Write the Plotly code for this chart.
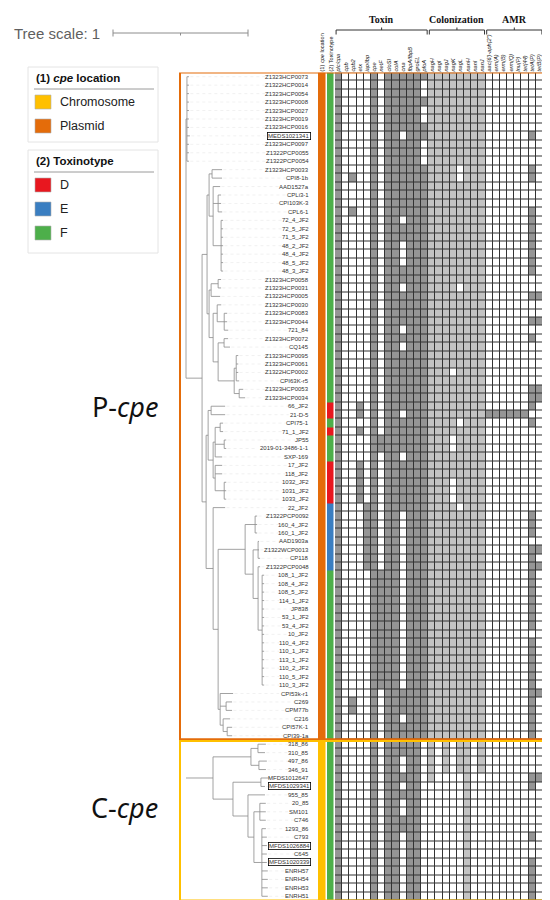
import plotly.graph_objects as go

W, H = 550, 900

# ---------------- data ----------------
P_STRAINS = [
    "Z1323HCP0073", "Z1322HCP0014", "Z1323HCP0054", "Z1323HCP0008", "Z1323HCP0027",
    "Z1323HCP0019", "Z1323HCP0016", "MEDS1021341", "Z1323HCP0097", "Z1322PCP0055",
    "Z1322PCP0054", "Z1323HCP0033", "CPI8-1b", "AAD1527a", "CPLi3-1",
    "CPI103K-3", "CPL6-1", "72_4_JF2", "72_5_JF2", "71_5_JF2",
    "48_2_JF2", "48_4_JF2", "48_5_JF2", "48_3_JF2", "Z1323HCP0058",
    "Z1323HCP0031", "Z1322HCP0005", "Z1323HCP0030", "Z1323HCP0083", "Z1323HCP0044",
    "721_84", "Z1323HCP0072", "CQ145", "Z1323HCP0095", "Z1323HCP0061",
    "Z1322HCP0002", "CPI63K-r5", "Z1323HCP0053", "Z1323HCP0034", "66_JF2",
    "21-D-5", "CPI75-1", "71_1_JF2", "JP55", "2019-01-3486-1-1",
    "SXP-169", "17_JF2", "118_JF2", "1032_JF2", "1031_JF2",
    "1033_JF2", "22_JF2", "Z1322PCP0092", "160_4_JF2", "160_1_JF2",
    "AAD1903a", "Z1322WCP0013", "CP118", "Z1322PCP0048", "108_1_JF2",
    "108_4_JF2", "108_5_JF2", "114_1_JF2", "JP838", "53_1_JF2",
    "53_4_JF2", "10_JF2", "110_4_JF2", "110_1_JF2", "113_1_JF2",
    "110_2_JF2", "110_5_JF2", "110_3_JF2", "CPI53k-r1", "C269",
    "CPM77b", "C216", "CPI57K-1", "CPI39-1a",
]
C_STRAINS = [
    "318_86", "310_85", "497_86", "346_91", "MFDS1012647", "MFDS1029341", "955_85",
    "20_85", "SM101", "C746", "1293_86", "C793", "MFDS1026884", "C645",
    "MFDS1020339", "ENRH57", "ENRH54", "ENRH53", "ENRH51",
]
BOXED = ["MEDS1021341", "MFDS1029341", "MFDS1026884", "MFDS1020339"]

# Newick trees (branch lengths in tree units)
P_TREE = """(
 (Z1323HCP0073:0.015,Z1322HCP0014:0.015,Z1323HCP0054:0.015,Z1323HCP0008:0.015,Z1323HCP0027:0.015,
  Z1323HCP0019:0.015,Z1323HCP0016:0.015,MEDS1021341:0.022,Z1323HCP0097:0.015,Z1322PCP0055:0.015,
  Z1322PCP0054:0.015):0.007,
 (
  (
   ((Z1323HCP0033:0.074,CPI8-1b:0.074):0.022,
    (AAD1527a:0.052,(CPLi3-1:0.022,CPI103K-3:0.022,CPL6-1:0.030):0.037,
     (72_4_JF2:0.015,72_5_JF2:0.015,71_5_JF2:0.015,48_2_JF2:0.015,48_4_JF2:0.015,48_5_JF2:0.015,
      48_3_JF2:0.015):0.059):0.030
   ):0.015,
   (
    ((Z1323HCP0058:0.022,Z1323HCP0031:0.022):0.052,Z1322HCP0005:0.067):0.015,
    ((Z1323HCP0030:0.030,(Z1323HCP0083:0.022,Z1323HCP0044:0.022,721_84:0.030):0.052):0.030,
     ((Z1323HCP0072:0.030,CQ145:0.044):0.044,
      ((Z1323HCP0095:0.015,Z1323HCP0061:0.015,Z1322HCP0002:0.015,CPI63K-r5:0.022):0.015,
       (Z1323HCP0053:0.030,Z1323HCP0034:0.044):0.037):0.119):0.037
    ):0.030
   ):0.015
  ):0.037,
  (
   ((66_JF2:0.104,21-D-5:0.104):0.022,
    (((CPI75-1:0.022,71_1_JF2:0.022):0.037,(JP55:0.015,2019-01-3486-1-1:0.015):0.067,SXP-169:0.052):0.015,
     (17_JF2:0.052,118_JF2:0.052,(1032_JF2:0.015,1031_JF2:0.015,1033_JF2:0.015):0.067):0.015):0.037
   ):0.015,
   (22_JF2:0.089,
    (
     ((Z1322PCP0092:0.015,160_4_JF2:0.015,160_1_JF2:0.015):0.074,
      ((AAD1903a:0.007,Z1322WCP0013:0.007,CP118:0.015):0.037,
       (Z1322PCP0048:0.015,
        (108_1_JF2:0.015,108_4_JF2:0.015,108_5_JF2:0.015,114_1_JF2:0.015,JP838:0.015,53_1_JF2:0.015,
         53_4_JF2:0.015,10_JF2:0.015,110_4_JF2:0.015,110_1_JF2:0.015,113_1_JF2:0.015,110_2_JF2:0.015,
         110_5_JF2:0.015,110_3_JF2:0.015):0.030):0.037
      ):0.059
     ):0.2,
     (CPI53k-r1:0.096,(C269:0.044,CPM77b:0.044):0.044,(C216:0.052,(CPI57K-1:0.037,CPI39-1a:0.037):0.030):0.022):0.015
    ):0.037
   ):0.052
  ):0.030
 ):0.119
);"""

C_TREE = """(
 ((318_86:0.059,310_85:0.052):0.052,(497_86:0.059,346_91:0.052):0.059):0.281,
 ((MFDS1012647:0.067,MFDS1029341:0.030):0.207,
  (955_85:0.126,((20_85:0.044,SM101:0.044,C746:0.044):0.044,
   (1293_86:0.030,C793:0.037,MFDS1026884:0.037,C645:0.037,MFDS1020339:0.037,ENRH57:0.044,
    ENRH54:0.044,ENRH53:0.044,ENRH51:0.044):0.059):0.044):0.111
 ):0.148
):0.2;"""

TREE_SCALE = 1

CPE_LOCATION = ["Plasmid"] * 79 + ["Chromosome"] * 19
TOXINOTYPE = ("FFFFFFFFFFFFFFFFFFFFFFFFFFFFFFFFFFFFFFF"
              "DDFDFFFDDDDDEEEEEEEE"
              "FFFFFFFFFFFFFFFFFFFFFFFFFFFFFFFFFFFFFFF")

TOXIN_GENES = ["plc/cpa", "cpb", "cpb2", "etx", "iap/ibp", "cpe", "netF", "cloSI",
               "colA", "cna", "fbpA/fbpB", "groEL", "pfoA"]
COLONIZATION_GENES = ["nagH", "nagI", "nagJ", "nagK", "nagL", "nanH", "nanI", "nanJ"]
AMR_GENES = ["aac(6')-aph(2'')", "erm(A)", "erm(B)", "erm(Q)", "lnu(P)", "tet(44)",
             "tetA(P)", "tetB(P)"]

ALL1 = "1111111111 " * 9 + "11111111"
ALL0 = "0000000000 " * 9 + "00000000"
# presence strings, rows 1..98 in groups of ten
TOXIN_PRESENCE = {
    "plc/cpa":   ALL1,
    "cpb":       ALL0,
    "cpb2":      "0000000000 0010001000 0000000000 0000000000 0000000000 0000000000 0000000000 0000110000 0000000000 00000000",
    "etx":       "0000000000 0000000000 0000000000 0000000001 1010001111 1000000000 0000000000 0000000000 0000000000 00000000",
    "iap/ibp":   "0000000000 0000000000 0000000000 0000000000 0000000000 0111111110 0000000000 0000000000 0000000000 00000000",
    "cpe":       ALL1,
    "netF":      "0000000000 0000000000 0000000000 0000000000 0001100000 0000000001 1111111111 1110000000 0000000000 00000000",
    "cloSI":     ALL1,
    "colA":      ALL1,
    "cna":       "1111111011 1111111011 0001101111 0101111111 0111101111 1100000000 0000000000 0001110111 1001010011 00000000",
    "fbpA/fbpB": ALL1,
    "groEL":     ALL1,
    "pfoA":      "1001001100 0111111111 1111111111 1111111111 1111111111 1111111111 1111111111 1111111110 0000000000 00000000",
}
COLONIZATION_PRESENCE = {
    "nagH": "1111111111 1111111111 1111111111 1111111111 1111111111 1111111111 1111111111 1111111111 1111000000 00000000",
    "nagI": "1111111111 1111111111 1111111111 1111111111 1111111111 1111111111 1111111111 1111111110 0000000000 00000000",
    "nagJ": "1111111111 1111111111 1111111111 1111111111 1111111111 1111111111 1111111111 1111111111 1110000000 00000000",
    "nagK": "1111111111 1111111111 1111111111 1111101111 1110011100 0111111111 1111111111 1111111110 0000000000 00000000",
    "nagL": "1111111111 1001111111 1111101111 1111111111 1011111111 1011111111 1111111111 1111111111 1110000000 00000000",
    "nanH": ALL1,
    "nanI": "1111111111 1111111111 1111111111 1111111111 1111111111 1111111111 1111111111 1111111110 0000000000 00000000",
    "nanJ": "1111111111 1111111111 1111111111 1111111111 1111111111 1111111111 1111111111 1111111111 1110000000 00000000",
}
ROW41_ONLY = "0000000000 0000000000 0000000000 0000000000 1000000000 0000000000 0000000000 0000000000 0000000000 00000000"
AMR_PRESENCE = {
    "aac(6')-aph(2'')": ROW41_ONLY,
    "erm(A)":  ROW41_ONLY,
    "erm(B)":  ROW41_ONLY,
    "erm(Q)":  ROW41_ONLY,
    "lnu(P)":  ROW41_ONLY,
    "tet(44)": ROW41_ONLY,
    "tetA(P)": "0000000100 0110001111 1111001001 0100000111 0100000000 0011101111 1111110111 1111111110 0001100000 10011111",
    "tetB(P)": "0000000000 0000000000 0000001001 0000000110 0000000000 0000001010 0000000000 0001000000 0001000000 00000000",
}

# ---------------- colours / style ----------------
ORANGE, YELLOW = "#E46C0A", "#FFC000"
RED, BLUE, GREEN = "#E8171F", "#3A7EC1", "#4DAF4A"
TOX_GRAY, COL_GRAY, AMR_GRAY = "#959595", "#c3c3c3", "#959595"
GRID = "#333333"
TREE_COLOR = "#8a8a8a"

STRAINS = P_STRAINS + C_STRAINS
N = len(STRAINS)
ROW = {s: i for i, s in enumerate(STRAINS)}
assert len(TOXINOTYPE) == N


def clean(s):
    s = s.replace(" ", "")
    assert len(s) == N, len(s)
    return s


# pixel helpers for layout furniture
def X(px):
    return px / W


def Y(py):
    return 1 - py / H


ROW_TOP_PX, ROW_BOT_PX = 64.5, 892.5
ROOT_PX, PX_PER_UNIT = 178, 135
TREE_RIGHT_PX = 305


# ---------------- tree parsing/layout ----------------
def parse_newick(txt):
    s = "".join(txt.split()).rstrip(";")
    pos = 0

    def node():
        nonlocal pos
        nd = {"children": [], "name": "", "len": 0.0}
        if s[pos] == "(":
            pos += 1
            while True:
                nd["children"].append(node())
                if s[pos] == ",":
                    pos += 1
                    continue
                if s[pos] == ")":
                    pos += 1
                    break
        st = pos
        while pos < len(s) and s[pos] not in ":,()":
            pos += 1
        nd["name"] = s[st:pos]
        if pos < len(s) and s[pos] == ":":
            pos += 1
            st = pos
            while pos < len(s) and s[pos] not in ",()":
                pos += 1
            nd["len"] = float(s[st:pos])
        return nd

    return node()


seg_x, seg_y, tips = [], [], []


def layout(nd, parent_x):
    x = parent_x + nd["len"]
    if not nd["children"]:
        y = ROW[nd["name"]]
        tips.append((x, y, nd["name"]))
    else:
        ys = [layout(c, x)[1] for c in nd["children"]]
        y = (ys[0] + ys[-1]) / 2
        seg_x.extend([x, x, None])
        seg_y.extend([ys[0], ys[-1], None])
    seg_x.extend([parent_x, x, None])
    seg_y.extend([y, y, None])
    return x, y


layout(parse_newick(P_TREE), 0.0)
layout(parse_newick(C_TREE), 0.0)
assert [t[2] for t in tips] == STRAINS

# ---------------- matrices ----------------
genes = TOXIN_GENES + COLONIZATION_GENES + AMR_GENES
cols = ([(TOXIN_PRESENCE[g], 1) for g in TOXIN_GENES] +
        [(COLONIZATION_PRESENCE[g], 2) for g in COLONIZATION_GENES] +
        [(AMR_PRESENCE[g], 3) for g in AMR_GENES])
cols = [(clean(s), code) for s, code in cols]
z_genes = [[code if s[r] == "1" else 0 for s, code in cols] for r in range(N)]

LOC_CODE = {"Plasmid": 0, "Chromosome": 1}
TYPE_CODE = {"D": 2, "E": 3, "F": 4}
z_meta = [[LOC_CODE[CPE_LOCATION[r]], TYPE_CODE[TOXINOTYPE[r]]] for r in range(N)]
meta_cols = ["loc", "type"]


def discrete(colors):
    n = len(colors)
    cs = []
    for i, c in enumerate(colors):
        cs += [[i / n, c], [(i + 1) / n, c]]
    return cs


fig = go.Figure()

# tree
fig.add_trace(go.Scatter(x=seg_x, y=seg_y, mode="lines", xaxis="x", yaxis="y",
                         line=dict(color=TREE_COLOR, width=0.8), hoverinfo="skip",
                         showlegend=False))
# faint dotted leaders from tips to labels
lx, ly = [], []
label_right_units = (303 - ROOT_PX) / PX_PER_UNIT
for x, y, name in tips:
    end = label_right_units - (len(name) * 3.2 + 3) / PX_PER_UNIT
    if end > x + 0.01:
        lx += [x + 0.01, end, None]
        ly += [y, y, None]
fig.add_trace(go.Scatter(x=lx, y=ly, mode="lines", xaxis="x", yaxis="y",
                         line=dict(color="#e2e2e2", width=0.5, dash="dot"),
                         hoverinfo="skip", showlegend=False))

# cpe location / toxinotype strips
fig.add_trace(go.Heatmap(z=z_meta, x=meta_cols, y=list(range(N)), xaxis="x3", yaxis="y",
                         zmin=-0.5, zmax=4.5,
                         colorscale=discrete([ORANGE, YELLOW, RED, BLUE, GREEN]),
                         showscale=False, xgap=1.5, hoverinfo="skip"))
# gene presence grid
fig.add_trace(go.Heatmap(z=z_genes, x=genes, y=list(range(N)), xaxis="x2", yaxis="y",
                         zmin=-0.5, zmax=3.5,
                         colorscale=discrete(["#ffffff", TOX_GRAY, COL_GRAY, AMR_GRAY]),
                         showscale=False, xgap=1, ygap=1, hoverinfo="skip"))

shapes, ann = [], []
# grid line background
shapes.append(dict(type="rect", xref="x2 domain", yref="y", x0=0, x1=1, y0=-0.5, y1=N - 0.5,
                   fillcolor=GRID, line=dict(width=0), layer="below"))
# section boxes
nP = len(P_STRAINS)
shapes.append(dict(type="rect", xref="paper", yref="y", x0=X(172), x1=X(543),
                   y0=-0.5, y1=nP - 0.58, line=dict(color=ORANGE, width=2)))
shapes.append(dict(type="rect", xref="paper", yref="y", x0=X(172), x1=X(543),
                   y0=nP - 0.38, y1=N - 0.5, line=dict(color=YELLOW, width=2)))

# row labels
for i, s in enumerate(STRAINS):
    a = dict(x=X(303), xref="paper", y=i, yref="y", text=s, showarrow=False,
             xanchor="right", yanchor="middle",
             font=dict(size=6, color="#333333", family="Liberation Sans, Arial"))
    if s in BOXED:
        a.update(bordercolor="#000000", borderwidth=0.8, borderpad=0.3)
    ann.append(a)

# group headers with brackets
groups = [("Toxin", 0, len(TOXIN_GENES) - 1),
          ("Colonization", len(TOXIN_GENES), len(TOXIN_GENES) + len(COLONIZATION_GENES) - 1),
          ("AMR", len(TOXIN_GENES) + len(COLONIZATION_GENES), len(genes) - 1)]
for name, a0, a1 in groups:
    xm = (a0 + a1) / 2
    ann.append(dict(x=xm, xref="x2", y=Y(12), yref="paper", text=f"<b>{name}</b>",
                    showarrow=False, xanchor="center", yanchor="middle",
                    font=dict(size=10, color="#111", family="Liberation Serif, Times New Roman")))
    bl = dict(color="#333", width=1)
    x0, x1 = a0 - 0.35, a1 + 0.35
    shapes.append(dict(type="line", xref="x2", yref="paper", x0=x0, x1=x1, y0=Y(22), y1=Y(22), line=bl))
    shapes.append(dict(type="line", xref="x2", yref="paper", x0=x0, x1=x0, y0=Y(22), y1=Y(26.5), line=bl))
    shapes.append(dict(type="line", xref="x2", yref="paper", x0=x1, x1=x1, y0=Y(22), y1=Y(26.5), line=bl))
    shapes.append(dict(type="line", xref="x2", yref="paper", x0=xm, x1=xm, y0=Y(22), y1=Y(19.5), line=bl))

# tree scale
ann.append(dict(x=X(4), xref="paper", y=Y(25), yref="paper", text="Tree scale: 1",
                showarrow=False, xanchor="left", yanchor="middle",
                font=dict(size=15, color="#5f5f5f", family="Liberation Sans, Arial")))
sb0 = (105 - ROOT_PX) / PX_PER_UNIT
sb1 = sb0 + TREE_SCALE
sbl = dict(color="#8c8c8c", width=1)
shapes.append(dict(type="line", xref="x", yref="paper", x0=sb0, x1=sb1, y0=Y(25), y1=Y(25), line=sbl))
shapes.append(dict(type="line", xref="x", yref="paper", x0=sb0, x1=sb0, y0=Y(21.5), y1=Y(28.5), line=sbl))
shapes.append(dict(type="line", xref="x", yref="paper", x0=sb1, x1=sb1, y0=Y(21.5), y1=Y(28.5), line=sbl))
shapes.append(dict(type="line", xref="x", yref="paper", x0=(sb0 + sb1) / 2, x1=(sb0 + sb1) / 2,
                   y0=Y(25), y1=Y(27.5), line=sbl))


# legends
def legend_block(top, bottom, title, items):
    shapes.append(dict(type="rect", xref="paper", yref="paper", x0=X(20), x1=X(150),
                       y0=Y(bottom), y1=Y(top), line=dict(color="#e4e4e4", width=1),
                       fillcolor="rgba(255,255,255,0)"))
    ann.append(dict(x=X(26), xref="paper", y=Y(top + 11), yref="paper", text=f"<b>{title}</b>",
                    showarrow=False, xanchor="left", yanchor="middle",
                    font=dict(size=11.5, color="#111", family="Liberation Sans, Arial")))
    shapes.append(dict(type="line", xref="paper", yref="paper", x0=X(26), x1=X(146),
                       y0=Y(top + 22), y1=Y(top + 22), line=dict(color="#9a9a9a", width=1)))
    for k, (lab, col) in enumerate(items):
        yc = top + 35 + 24 * k
        shapes.append(dict(type="rect", xref="paper", yref="paper", x0=X(27), x1=X(43),
                           y0=Y(yc + 7), y1=Y(yc - 7), fillcolor=col,
                           line=dict(color="#b0b0b0", width=0.6)))
        ann.append(dict(x=X(50), xref="paper", y=Y(yc), yref="paper", text=lab,
                        showarrow=False, xanchor="left", yanchor="middle",
                        font=dict(size=12.5, color="#222", family="Liberation Sans, Arial")))


legend_block(59, 134, "(1) <i>cpe</i> location", [("Chromosome", YELLOW), ("Plasmid", ORANGE)])
legend_block(142, 245, "(2) Toxinotype", [("D", RED), ("E", BLUE), ("F", GREEN)])

# section names, centred on their sections
ann.append(dict(x=X(152), xref="paper", y=(nP - 1) / 2, yref="y", text="P-<i>cpe</i>",
                showarrow=False, xanchor="right", yanchor="middle",
                font=dict(size=27, color="#111", family="Noto Sans, Open Sans")))
ann.append(dict(x=X(152), xref="paper", y=nP + (N - nP - 1) / 2 - 1.5, yref="y", text="C-<i>cpe</i>",
                showarrow=False, xanchor="right", yanchor="middle",
                font=dict(size=27, color="#111", family="Noto Sans, Open Sans")))

ydom = [Y(ROW_BOT_PX), Y(ROW_TOP_PX)]
hidden = dict(showgrid=False, zeroline=False, showline=False, showticklabels=False, ticks="")
fig.update_layout(
    width=W, height=H, margin=dict(l=0, r=0, t=0, b=0),
    paper_bgcolor="white", plot_bgcolor="white", showlegend=False,
    font=dict(family="Liberation Sans, Arial"),
    xaxis=dict(domain=[0, X(TREE_RIGHT_PX)], anchor="y",
               range=[-ROOT_PX / PX_PER_UNIT, (TREE_RIGHT_PX - ROOT_PX) / PX_PER_UNIT], **hidden),
    xaxis2=dict(domain=[X(327), X(535)], anchor="y", side="top", tickangle=-90,
                tickvals=genes, ticktext=[f"<i>{g}</i>" for g in genes],
                tickfont=dict(size=5.6, color="#111"), showgrid=False, zeroline=False,
                showline=False, ticks=""),
    xaxis3=dict(domain=[X(310), X(327)], anchor="y", side="top", tickangle=-90,
                tickvals=meta_cols, ticktext=["(1) <i>cpe</i> location", "(2) Toxinotype"],
                tickfont=dict(size=5.6, color="#111"), showgrid=False, zeroline=False,
                showline=False, ticks=""),
    yaxis=dict(domain=ydom, anchor="x", range=[N - 0.5, -0.5], **hidden),
    shapes=shapes, annotations=ann,
)

fig.write_html("out.html")
